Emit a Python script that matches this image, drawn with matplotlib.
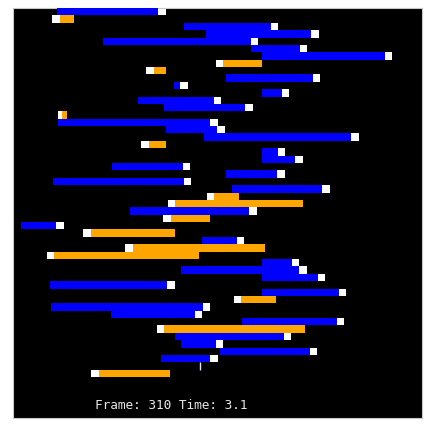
import matplotlib
matplotlib.use("Agg")
import matplotlib.pyplot as plt

# lane index, kind (B = blue moving right, O = orange moving left, L = tiny marker), tail, head
lanes = [0, 1, 2, 3, 4, 5, 6, 7, 8, 9, 10, 11, 12, 13, 14, 15, 16, 17, 18, 19,
         20, 21, 22, 23, 24, 25, 26, 27, 28, 29, 30, 31, 32, 33, 34, 35, 36, 37,
         38, 39, 40, 41, 42, 43, 44, 45, 46, 47, 48, 49]
kinds = ["B", "O", "B", "B", "B", "B", "B", "O", "O", "B", "B", "B", "B", "B",
         "O", "B", "B", "B", "O", "B", "B", "B", "B", "B", "B", "O", "O", "B",
         "O", "B", "O", "B", "O", "O", "B", "B", "B", "B", "B", "O", "B", "B",
         "B", "O", "B", "B", "B", "B", "L", "O"]
tails = [6.03, 8.29, 23.20, 26.19, 12.18, 32.38, 33.87, 33.78, 20.85, 28.90,
         21.85, 33.82, 17.01, 20.54, 7.34, 6.08, 20.72, 25.92, 20.76, 33.87,
         33.87, 13.40, 28.94, 5.44, 29.80, 30.66, 39.43, 15.93, 26.82, 1.15,
         22.03, 25.64, 34.23, 25.28, 33.87, 22.84, 33.87, 4.99, 33.82, 35.72,
         5.17, 13.31, 31.07, 39.61, 21.98, 22.80, 28.08, 20.13, 25.40, 21.31]
heads = [19.72, 5.35, 35.00, 40.51, 32.29, 38.97, 50.45, 27.54, 18.14, 40.69,
         22.71, 36.49, 27.27, 31.52, 6.08, 26.82, 27.72, 45.93, 17.46, 35.95,
         38.30, 23.07, 35.86, 23.20, 42.00, 26.28, 21.03, 32.06, 20.40, 5.90,
         9.60, 30.43, 15.25, 4.59, 37.84, 38.84, 41.37, 20.94, 44.26, 29.98,
         25.82, 24.70, 43.99, 19.50, 36.76, 27.50, 40.33, 26.82, 25.40, 10.64]
frame_label = "Frame: 310 Time: 3.1"

W, H = 432, 426
fig = plt.figure(figsize=(W / 100, H / 100), dpi=100, facecolor="white")
ax = fig.add_axes([12.7 / W, (H - 417.7) / H, 409.3 / W, 409.7 / H])
ax.set_facecolor("black")
ax.set_xlim(0, 55.5)
ax.set_ylim(55.5, 0)
ax.set_xticks([])
ax.set_yticks([])
for s in ax.spines.values():
    s.set_color("#c8c8c8")
    s.set_linewidth(0.8)

SQ = 1.0
for lane, k, t, h in zip(lanes, kinds, tails, heads):
    if k == "B":
        ax.barh(lane, h - t, left=t, height=1.0, align="edge", color="#0000ff",
                linewidth=0, zorder=3)
        ax.barh(lane, SQ, left=h, height=1.0, align="edge", color="white",
                linewidth=0, zorder=2)
    elif k == "O":
        lo = h + SQ
        if t - lo < 0.7:
            lo = t - 0.67
        ax.barh(lane, SQ, left=h, height=1.0, align="edge", color="white",
                linewidth=0, zorder=2)
        ax.barh(lane, t - lo, left=lo, height=1.0, align="edge", color="#ffa500",
                linewidth=0, zorder=3)
    else:
        ax.vlines(h, lane, lane + 1, color="#e0e0ff", linewidth=1.0, zorder=3)

ax.text(11.2, 54.3, frame_label, family="DejaVu Sans Mono", fontsize=9.2,
        color="#e8e8e8", ha="left", va="baseline")

fig.savefig("out.png", dpi=100, facecolor="white")
